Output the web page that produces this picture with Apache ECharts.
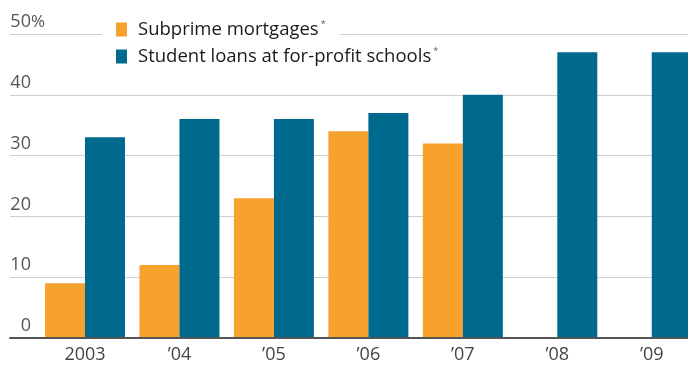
<!DOCTYPE html>
<html>
<head>
<meta charset="utf-8">
<script src="https://cdn.jsdelivr.net/npm/echarts@6/dist/echarts.min.js"></script>
<style>
  html, body { margin: 0; padding: 0; background: #fff; overflow: hidden; }
  /* the plot runs slightly past the right edge of the page, so the last bar is cut */
  #chart { width: 699px; height: 369px; }
</style>
</head>
<body>
<div id="chart"></div>
<script>
// Share of borrowers, by year
const years = ['2003', '\u201904', '\u201905', '\u201906', '\u201907', '\u201908', '\u201909'];
const subprime = [9, 12, 23, 34, 32, null, null];
const studentLoans = [33, 36, 36, 37, 40, 47, 47];
const yTicks = [0, 10, 20, 30, 40, 50];

const SUBPRIME = 'Subprime mortgages';
const STUDENT = 'Student loans at for-profit schools';
const ORANGE = '#F7A22D';
const BLUE = '#006A8E';
const FONT = '"Open Sans", sans-serif';

const chart = echarts.init(document.getElementById('chart'), null, { renderer: 'canvas' });

const legendText = {
  fontFamily: FONT,
  fontSize: 18.5,
  color: '#1a1a1a',
  padding: [0, 0, 0, 6],
  rich: {
    s: { fontFamily: FONT, fontSize: 9, color: '#555', verticalAlign: 'top', padding: [0, 0, 9, 2] }
  }
};

chart.setOption({
  animation: false,
  backgroundColor: '#fff',
  grid: [
    // full-width frame for the gridlines and baseline
    { left: 10, right: 0, top: 34, bottom: 31 },
    // plotting area for the bars
    { left: 37.75, right: 0, top: 34, bottom: 31 }
  ],
  legend: [
    {
      data: [SUBPRIME],
      left: 102, top: 18,
      padding: [2, 14, 2, 14],
      backgroundColor: '#fff',
      icon: 'rect', itemWidth: 11, itemHeight: 14,
      formatter: n => n + '{s|*}',
      textStyle: legendText
    },
    {
      data: [STUDENT],
      left: 116, top: 47,
      padding: 0,
      icon: 'rect', itemWidth: 11, itemHeight: 14,
      formatter: n => n + '{s|*}',
      textStyle: legendText
    }
  ],
  xAxis: [
    {
      gridIndex: 0, type: 'value', min: 0, max: 1, z: 5,
      axisLabel: { show: false }, axisTick: { show: false }, splitLine: { show: false },
      axisLine: { show: true, lineStyle: { color: '#555', width: 2 } }
    },
    {
      gridIndex: 1, type: 'category', data: years,
      axisLine: { show: false }, axisTick: { show: false },
      axisLabel: { fontFamily: FONT, fontSize: 18, color: '#444', margin: 8 }
    }
  ],
  yAxis: [
    {
      gridIndex: 0, type: 'value', min: yTicks[0], max: yTicks[yTicks.length - 1], interval: 10,
      axisLine: { show: false }, axisTick: { show: false },
      splitLine: { show: true, lineStyle: { color: '#cfcfcf', width: 1 } },
      axisLabel: {
        inside: true, margin: 35, align: 'right', verticalAlign: 'bottom',
        padding: [0, 0, 3, 0],
        fontFamily: FONT, fontSize: 18, color: '#555',
        // the percent sign hangs to the right of the right-aligned numbers
        formatter: v => v + (v === 50 ? '{p|%}' : '{h|%}'),
        rich: {
          p: { fontFamily: FONT, fontSize: 17, color: '#555' },
          h: { fontFamily: FONT, fontSize: 17, color: 'rgba(0,0,0,0)' }
        }
      }
    },
    {
      gridIndex: 1, type: 'value', min: yTicks[0], max: yTicks[yTicks.length - 1], interval: 10,
      show: false, splitLine: { show: false }
    }
  ],
  series: [
    {
      name: SUBPRIME, type: 'bar', xAxisIndex: 1, yAxisIndex: 1,
      data: subprime, barWidth: 40, barGap: '0%',
      itemStyle: { color: ORANGE }
    },
    {
      name: STUDENT, type: 'bar', xAxisIndex: 1, yAxisIndex: 1,
      data: studentLoans, barWidth: 40, barGap: '0%',
      itemStyle: { color: BLUE }
    }
  ]
});
</script>
</body>
</html>
